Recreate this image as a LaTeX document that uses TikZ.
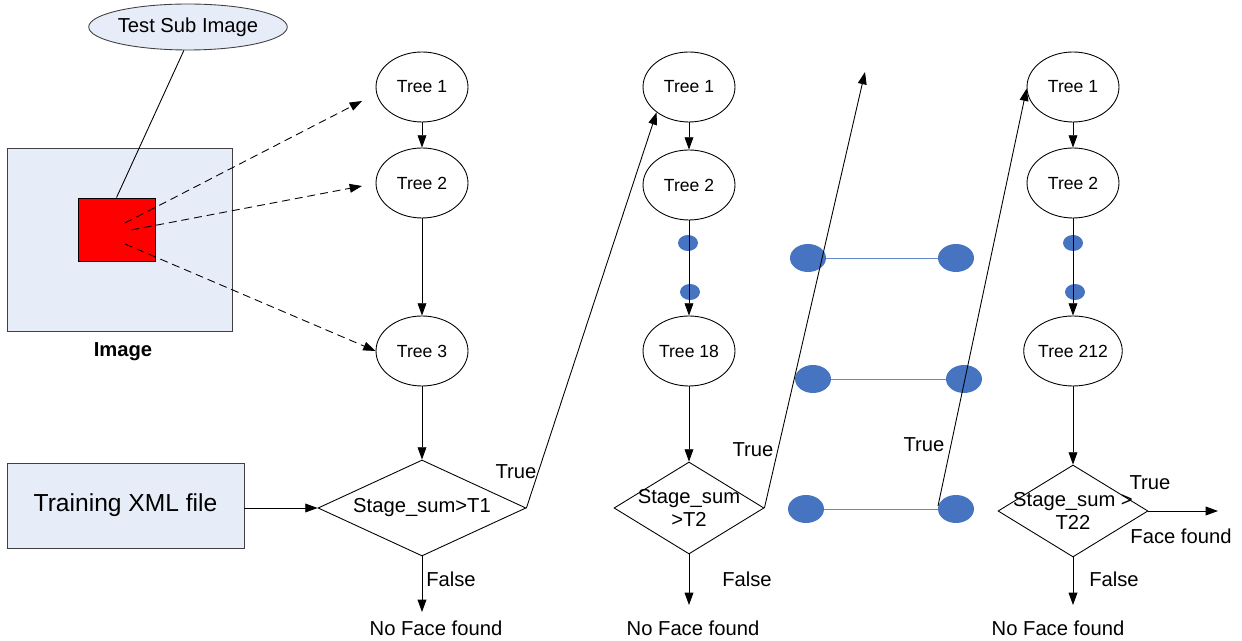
\documentclass[tikz,border=0pt]{standalone}
\usepackage{fontspec}
\setmainfont{Liberation Sans}
\usetikzlibrary{shapes.geometric,arrows.meta}
\definecolor{boxfill}{HTML}{E7EDF8}
\definecolor{dotblue}{HTML}{4674C1}
\begin{document}
\begin{tikzpicture}[x=0.02cm,y=-0.02cm,line width=0.5pt,
    tree/.style={draw,ellipse,minimum width=1.84cm,minimum height=1.4cm,inner sep=0pt,font=\fontsize{10}{12}\selectfont},
    test/.style={draw,diamond,inner sep=0pt,minimum height=1.84cm,minimum width=3cm},
    lbl/.style={font=\fontsize{11.5}{13}\selectfont,align=center},
    bigdot/.style={ellipse,fill=dotblue,inner sep=0pt,minimum width=0.72cm,minimum height=0.56cm},
    smalldot/.style={ellipse,fill=dotblue,inner sep=0pt,minimum width=0.4cm,minimum height=0.32cm},
    arr/.style={-{Triangle[length=7pt,width=5pt]}},
    rung/.style={dotblue!85,line width=0.5pt}]
    \useasboundingbox (0,0) rectangle (1242,641);
    \node[draw=black!75,fill=boxfill,minimum width=4.5cm,minimum height=3.66cm] (image) at (119.5,239.5){};
    \node[font=\fontsize{11.5}{13}\selectfont\bfseries] (imagelbl) at (123,352){Image};
    \node[draw,fill=red,minimum width=1.54cm,minimum height=1.26cm] (sub) at (116.5,229.5){};
    \node[draw=black!75,fill=boxfill,ellipse,minimum width=3.76cm,minimum height=0.92cm,inner sep=0pt,lbl] (testsub) at (188,27){Test Sub Image};
    \node[draw=black!75,fill=boxfill,minimum width=4.74cm,minimum height=1.7cm,font=\fontsize{14}{16}\selectfont] (xml) at (125.5,505.5){Training XML file};
    \draw (testsub.-100) -- (sub.north);
    \coordinate (s1) at (125,223);
    \coordinate (s2) at (131,230);
    \coordinate (s3) at (125,244);
    \coordinate (e1) at (362,101);
    \coordinate (e2) at (362,186);
    \node[tree] (t11) at (422,87){Tree 1};
    \node[tree] (t12) at (422,183){Tree 2};
    \node[tree] (t13) at (422,351){Tree 3};
    \node[test,minimum width=4.16cm,minimum height=1.92cm] (d1) at (422,508){};
    \node[lbl] at (d1.center){Stage\_sum>T1};
    \draw[arr,dash pattern=on 4.5pt off 2.8pt] (s1) -- (e1);
    \draw[arr,dash pattern=on 4.5pt off 2.8pt] (s2) -- (e2);
    \draw[arr,dash pattern=on 4.5pt off 2.8pt] (s3) -- (t13.west);
    \draw[arr] (t11) -- (t12);
    \draw[arr] (t12) -- (t13);
    \draw[arr] (t13) -- (d1);
    \draw[arr] (xml.east |- d1.west) -- (d1.west);
    \node[tree] (t21) at (689,87){Tree 1};
    \node[tree] (t22) at (689,185){Tree 2};
    \node[tree] (t23) at (689,351){Tree 18};
    \node[test] (d2) at (689,508){};
    \node[lbl] at (d2.center){Stage\_sum\\>T2};
    \node[smalldot] (a21) at (688,243){};
    \node[smalldot] (a22) at (690,292){};
    \draw[arr] (t21) -- (t22);
    \draw[arr] (t22) -- (t23);
    \draw[arr] (t23) -- (d2);
    \node[tree] (t31) at (1073,87){Tree 1};
    \node[tree] (t32) at (1073,183){Tree 2};
    \node[tree] (t33) at (1073,351){Tree 212};
    \node[test] (d3) at (1073,511){};
    \node[lbl] at (d3.center){Stage\_sum >\\T22};
    \node[smalldot] (a31) at (1073,243){};
    \node[smalldot] (a32) at (1075,292){};
    \draw[arr] (t31) -- (t32);
    \draw[arr] (t32) -- (t33);
    \draw[arr] (t33) -- (d3);
    \node[bigdot] (l1) at (808,258){};
    \node[bigdot] (r1) at (956,258){};
    \node[bigdot] (l2) at (813,379){};
    \node[bigdot] (r2) at (964,379){};
    \node[bigdot] (l3) at (806,509){};
    \node[bigdot] (r3) at (956,509){};
    \draw[rung] (l1) -- (r1);
    \draw[rung] (l2) -- (r2);
    \draw[rung] (l3) -- (r3);
    \coordinate (up2) at (865,72);
    \coordinate (lo3) at (938,506);
    \draw[arr] (d1.east) -- (t21.218);
    \draw[arr] (d2.east) -- (up2);
    \draw[arr] (lo3) -- (t31.182);
    \coordinate (f1) at (422,612);
    \coordinate (f2) at (689,605);
    \coordinate (f3) at (1073,605);
    \coordinate (ok) at (1218,511);
    \draw[arr] (d1.south) -- (f1);
    \draw[arr] (d2.south) -- (f2);
    \draw[arr] (d3.south) -- (f3);
    \draw[arr] (d3.east) -- (ok);
    \node[lbl] (true1) at (516,472){True};
    \node[lbl] (true2) at (753,450){True};
    \node[lbl] (true3) at (924,445){True};
    \node[lbl] (true4) at (1150,483){True};
    \node[lbl] (false1) at (451,579){False};
    \node[lbl] (false2) at (747,579){False};
    \node[lbl] (false3) at (1114,579){False};
    \node[lbl] (face) at (1181,536){Face found};
    \node[lbl] (nf1) at (436,628){No Face found};
    \node[lbl] (nf2) at (693,628){No Face found};
    \node[lbl] (nf3) at (1058,628){No Face found};
\end{tikzpicture}
\end{document}
